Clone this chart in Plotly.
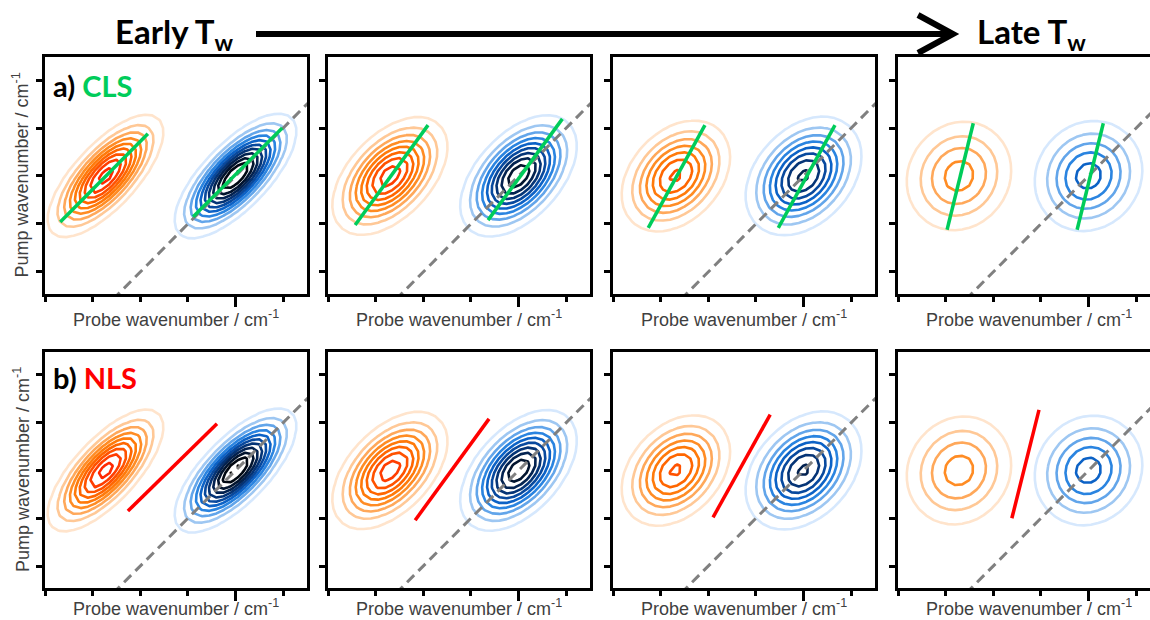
import numpy as np
import plotly.graph_objects as go

W, H = 1150, 620

# ---- peak model parameters, one entry per waiting time (early -> late) ----
blue_amp = [1.12, 0.98, 0.82, 0.55]
blue_x0 = [4.0, 4.0, 4.0, 4.0]
blue_y0 = [4.0, 4.0, 4.0, 4.0]
blue_sx = [0.58, 0.57, 0.59, 0.61]
blue_sy = [0.59, 0.59, 0.60, 0.62]
blue_rho = [0.72, 0.50, 0.34, 0.10]

orange_amp = [0.95, 0.86, 0.72, 0.45]
orange_x0 = [1.27, 1.30, 1.32, 1.28]
orange_y0 = [4.0, 4.0, 4.0, 4.0]
orange_sx = [0.57, 0.58, 0.57, 0.63]
orange_sy = [0.60, 0.59, 0.58, 0.65]
orange_rho = [0.72, 0.50, 0.34, 0.10]

# ---- slope lines ----
cls_orange_x = [[0.32, 2.16], [0.57, 2.10], [0.74, 1.93], [1.03, 1.58]]
cls_orange_y = [[3.04, 4.88], [2.98, 5.06], [2.92, 5.06], [2.88, 5.10]]
cls_blue_x = [[3.11, 4.98], [3.36, 4.92], [3.47, 4.66], [3.76, 4.31]]
cls_blue_y = [[3.15, 5.00], [3.08, 5.19], [2.92, 5.06], [2.88, 5.10]]
nls_x = [[1.74, 3.61], [1.83, 3.38], [2.10, 3.30], [2.39, 2.96]]
nls_y = [[3.15, 4.98], [2.96, 5.08], [3.02, 5.17], [3.00, 5.27]]

# pump = probe diagonal
diag_x = [0.0, 7.0]
diag_y = [0.0, 7.0]

# axis ticks
x_major = [4]
x_minor = [0, 1, 2, 3, 5]
y_ticks = [2, 3, 4, 5, 6]

# contour levels and their colours (outer -> inner)
level_start, level_end, level_step = 0.1, 1.1, 0.1
blue_colors = ["#D6E8FD", "#9EC7F2", "#62A5EA", "#2A84E0", "#0C62C6", "#08499E",
               "#053476", "#032250", "#02142E", "#010812", "#000000"]
orange_colors = ["#FFE4CC", "#FFC896", "#FFA85A", "#FF8C24", "#FF7A0A", "#FF6600",
                 "#FF5200", "#FF3D00", "#FF2800", "#FF1400", "#FF0000"]

GREEN = "#00CC5A"
RED = "#FF0000"

# ---- layout geometry (pixels) ----
col_left = [45, 328, 613, 898]
col_right = [307, 590, 875, 1150]
row_top = [57, 352]
row_bottom = [294, 588]
label_y = [318, 607]
PX_PER_UNIT = 262 / 5.5


def px_x(px):
    return px / W


def px_y(py):
    return 1 - py / H


def stepped_scale(colors):
    n = len(colors)
    return [[i / (n - 1), c] for i, c in enumerate(colors)]


gx = np.arange(-0.6, 6.4, 0.15)
gy = np.arange(0.8, 7.4, 0.15)
GX, GY = np.meshgrid(gx, gy)


def gauss2d(a, x0, y0, sx, sy, rho):
    dx = (GX - x0) / sx
    dy = (GY - y0) / sy
    q = (dx ** 2 - 2 * rho * dx * dy + dy ** 2) / (1 - rho ** 2)
    return a * np.exp(-q / 2)


fig = go.Figure()
layout_axes = {}

for r in range(2):
    for c in range(4):
        idx = r * 4 + c + 1
        xa = "x" if idx == 1 else f"x{idx}"
        ya = "y" if idx == 1 else f"y{idx}"
        xkey = "xaxis" if idx == 1 else f"xaxis{idx}"
        ykey = "yaxis" if idx == 1 else f"yaxis{idx}"

        z_or = gauss2d(orange_amp[c], orange_x0[c], orange_y0[c],
                       orange_sx[c], orange_sy[c], orange_rho[c])
        z_bl = gauss2d(blue_amp[c], blue_x0[c], blue_y0[c],
                       blue_sx[c], blue_sy[c], blue_rho[c])

        for z, cols in ((z_or, orange_colors), (z_bl, blue_colors)):
            fig.add_trace(go.Contour(
                x=gx, y=gy, z=z, xaxis=xa, yaxis=ya,
                autocontour=False,
                contours=dict(start=level_start, end=level_end, size=level_step,
                              coloring="lines"),
                colorscale=stepped_scale(cols),
                line=dict(width=2.6, smoothing=0),
                showscale=False, hoverinfo="skip",
            ))

        fig.add_trace(go.Scatter(
            x=diag_x, y=diag_y, xaxis=xa, yaxis=ya, mode="lines",
            line=dict(color="#808080", width=3, dash="10px,6px"),
            hoverinfo="skip", showlegend=False,
        ))

        if r == 0:
            for lx, ly in ((cls_orange_x[c], cls_orange_y[c]),
                           (cls_blue_x[c], cls_blue_y[c])):
                fig.add_trace(go.Scatter(
                    x=lx, y=ly, xaxis=xa, yaxis=ya, mode="lines",
                    line=dict(color=GREEN, width=3.5),
                    hoverinfo="skip", showlegend=False,
                ))
        else:
            fig.add_trace(go.Scatter(
                x=nls_x[c], y=nls_y[c], xaxis=xa, yaxis=ya, mode="lines",
                line=dict(color=RED, width=3.5),
                hoverinfo="skip", showlegend=False,
            ))

        width_px = col_right[c] - col_left[c]
        layout_axes[xkey] = dict(
            domain=[px_x(col_left[c]), px_x(col_right[c])],
            range=[0, width_px / PX_PER_UNIT],
            anchor=ya, showgrid=False, zeroline=False,
            showline=True, linecolor="black", linewidth=3, mirror=True,
            tickmode="array", tickvals=x_major, ticks="outside",
            ticklen=10, tickwidth=3, tickcolor="black", showticklabels=False,
            minor=dict(tickmode="array", tickvals=x_minor, ticks="outside",
                       ticklen=5, tickwidth=3, tickcolor="black", showgrid=False),
            fixedrange=True,
        )
        layout_axes[ykey] = dict(
            domain=[px_y(row_bottom[r]), px_y(row_top[r])],
            range=[1.54, 6.48],
            anchor=xa, showgrid=False, zeroline=False,
            showline=True, linecolor="black", linewidth=3, mirror=(c < 3),
            tickmode="array", tickvals=y_ticks, ticks="outside",
            ticklen=6, tickwidth=3, tickcolor="black", showticklabels=False,
            fixedrange=True,
        )

annotations = []
label_font = dict(family="Liberation Sans, Arial, sans-serif", size=18, color="#404040")
for r in range(2):
    for c in range(4):
        annotations.append(dict(
            text="Probe wavenumber / cm<sup>-1</sup>",
            x=px_x(col_left[c] + 131), y=px_y(label_y[r]),
            xref="paper", yref="paper", xanchor="center", yanchor="middle",
            showarrow=False, font=label_font,
        ))
    annotations.append(dict(
        text="Pump wavenumber / cm<sup>-1</sup>",
        x=px_x(21), y=px_y((row_top[r] + row_bottom[r]) / 2),
        xref="paper", yref="paper", xanchor="center", yanchor="middle",
        textangle=-90, showarrow=False, font=label_font,
    ))

title_font = dict(family="Lato, sans-serif", size=33, color="black")
annotations.append(dict(
    text="<b>Early T<sub>w</sub></b>", x=px_x(113), y=px_y(34),
    xref="paper", yref="paper", xanchor="left", yanchor="middle",
    showarrow=False, font=title_font,
))
annotations.append(dict(
    text="<b>Late T<sub>w</sub></b>", x=px_x(975), y=px_y(34),
    xref="paper", yref="paper", xanchor="left", yanchor="middle",
    showarrow=False, font=title_font,
))

panel_font = dict(family="Lato, sans-serif", size=29, color="black")
annotations.append(dict(
    text=f"<b>a) <span style='color:{GREEN}'>CLS</span></b>",
    x=px_x(51), y=px_y(86), xref="paper", yref="paper",
    xanchor="left", yanchor="middle", showarrow=False, font=panel_font,
))
annotations.append(dict(
    text=f"<b>b) <span style='color:{RED}'>NLS</span></b>",
    x=px_x(51), y=px_y(378), xref="paper", yref="paper",
    xanchor="left", yanchor="middle", showarrow=False, font=panel_font,
))

# time arrow
shapes = [
    dict(type="line", xref="paper", yref="paper",
         x0=px_x(256), y0=px_y(34), x1=px_x(948), y1=px_y(34),
         line=dict(color="black", width=6)),
    dict(type="path", xref="paper", yref="paper",
         path=(f"M {px_x(918)} {px_y(15)} L {px_x(953)} {px_y(34)} "
               f"L {px_x(918)} {px_y(53)}"),
         line=dict(color="black", width=6)),
]

fig.update_layout(
    width=W, height=H,
    margin=dict(l=0, r=0, t=0, b=0),
    paper_bgcolor="white", plot_bgcolor="white",
    showlegend=False,
    annotations=annotations,
    shapes=shapes,
    **layout_axes,
)

fig.write_html("out.html", config={"displayModeBar": False})
